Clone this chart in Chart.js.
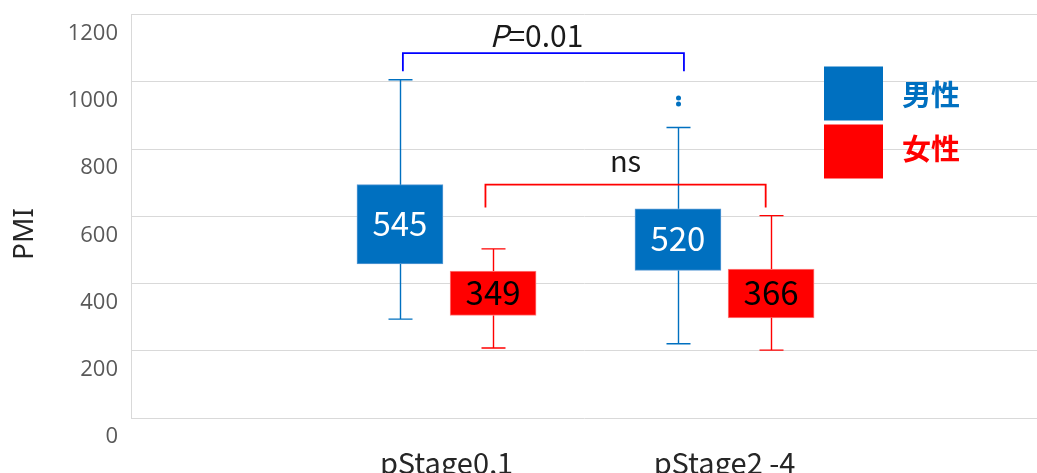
<!DOCTYPE html>
<html lang="ja">
<head>
    <meta charset="UTF-8" />
    <title>PMI by pStage</title>
    <style>
        html, body {
            margin: 0;
            padding: 0;
            background: #ffffff;
        }
        .chart-wrap {
            width: 1037px;
            height: 473px;
            position: relative;
        }
    </style>
    <script src="https://cdn.jsdelivr.net/npm/chart.js"></script>
</head>
<body>
    <div class="chart-wrap">
        <canvas id="pmi-chart"></canvas>
    </div>
    <script>
        // groups on the x axis and where each group sits on the linear scale
        const groups = ['pStage0,1', 'pStage2 -4'];
        const groupPos = [1, 2];
        const yTicks = [0, 200, 400, 600, 800, 1000, 1200];

        // 男性
        const maleMin = [294, 221];
        const maleQ1 = [458, 439];
        const maleQ3 = [694, 622];
        const maleMax = [1006, 864];
        const maleMedian = [545, 520];
        const maleOutliers = [[], [952, 934]];

        // 女性
        const femaleMin = [208, 202];
        const femaleQ1 = [305, 298];
        const femaleQ3 = [437, 443];
        const femaleMax = [503, 602];
        const femaleMedian = [349, 366];

        // significance brackets between boxes
        const brackets = [
            { from: 0.843, to: 1.854, y: 1085, leg: 1031, label: 'P=0.01', color: '#0000ff' },
            { from: 1.14, to: 2.148, y: 694, leg: 626, label: 'ns', color: '#ff0000' }
        ];

        const BLUE = '#0070c0';
        const RED = '#ff0000';
        const SHIFT = 0.1675;
        const FONT = '"Noto Sans CJK JP", "Noto Sans", sans-serif';

        const maleX = groupPos.map(p => p - SHIFT);
        const femaleX = groupPos.map(p => p + SHIFT);

        const series = [
            { name: '男性', color: BLUE, text: '#ffffff', x: maleX, min: maleMin, q1: maleQ1, q3: maleQ3, max: maleMax, med: maleMedian, out: maleOutliers },
            { name: '女性', color: RED, text: '#000000', x: femaleX, min: femaleMin, q1: femaleQ1, q3: femaleQ3, max: femaleMax, med: femaleMedian, out: [[], []] }
        ];

        const boxPlotPlugin = {
            id: 'boxPlotExtras',
            afterDatasetsDraw(chart) {
                const ctx = chart.ctx;
                const xs = chart.scales.x;
                const ys = chart.scales.y;
                const area = chart.chartArea;
                ctx.save();

                // whiskers, caps and outliers
                series.forEach(s => {
                    ctx.strokeStyle = s.color;
                    ctx.fillStyle = s.color;
                    ctx.lineWidth = 1.4;
                    s.x.forEach((xv, i) => {
                        const px = Math.round(xs.getPixelForValue(xv)) + 0.5;
                        const yMax = ys.getPixelForValue(s.max[i]);
                        const yQ3 = ys.getPixelForValue(s.q3[i]);
                        const yQ1 = ys.getPixelForValue(s.q1[i]);
                        const yMin = ys.getPixelForValue(s.min[i]);
                        ctx.beginPath();
                        ctx.moveTo(px, yMax); ctx.lineTo(px, yQ3);
                        ctx.moveTo(px, yQ1); ctx.lineTo(px, yMin);
                        ctx.moveTo(px - 12, yMax); ctx.lineTo(px + 12, yMax);
                        ctx.moveTo(px - 12, yMin); ctx.lineTo(px + 12, yMin);
                        ctx.stroke();
                        s.out[i].forEach(v => {
                            ctx.beginPath();
                            ctx.arc(px, ys.getPixelForValue(v), 2.5, 0, Math.PI * 2);
                            ctx.fill();
                        });
                    });
                });

                // median value inside each box
                ctx.font = '33px ' + FONT;
                ctx.textAlign = 'center';
                ctx.textBaseline = 'middle';
                series.forEach(s => {
                    ctx.fillStyle = s.text;
                    s.x.forEach((xv, i) => {
                        const px = xs.getPixelForValue(xv);
                        const py = (ys.getPixelForValue(s.q1[i]) + ys.getPixelForValue(s.q3[i])) / 2;
                        ctx.fillText(String(s.med[i]), px, py - 1);
                    });
                });

                // brackets with their labels
                brackets.forEach(b => {
                    const x1 = xs.getPixelForValue(b.from);
                    const x2 = xs.getPixelForValue(b.to);
                    const yb = ys.getPixelForValue(b.y);
                    const yl = ys.getPixelForValue(b.leg);
                    ctx.strokeStyle = b.color;
                    ctx.lineWidth = 1.8;
                    ctx.beginPath();
                    ctx.moveTo(x1, yl);
                    ctx.lineTo(x1, yb);
                    ctx.lineTo(x2, yb);
                    ctx.lineTo(x2, yl);
                    ctx.stroke();

                    const cx = (x1 + x2) / 2;
                    ctx.fillStyle = '#1a1a1a';
                    ctx.textBaseline = 'middle';
                    if (b.label.startsWith('P=')) {
                        const italic = 'italic 30px ' + FONT;
                        const normal = '30px ' + FONT;
                        const rest = b.label.slice(1);
                        ctx.font = italic;
                        const wP = ctx.measureText('P').width;
                        ctx.font = normal;
                        const wR = ctx.measureText(rest).width;
                        const start = cx - 7 - (wP + wR) / 2;
                        const ty = yb - 18;
                        ctx.textAlign = 'left';
                        ctx.font = italic;
                        ctx.fillText('P', start, ty);
                        ctx.font = normal;
                        ctx.fillText(rest, start + wP, ty);
                    } else {
                        ctx.textAlign = 'center';
                        ctx.font = '29px ' + FONT;
                        ctx.fillText(b.label, cx, yb - 23.5);
                    }
                });

                // legend squares on the right
                const lx = area.left + 693;
                let ly = area.top + 52;
                const textDy = [28, 24];
                ctx.font = 'bold 29px ' + FONT;
                ctx.textAlign = 'left';
                ctx.textBaseline = 'middle';
                series.forEach((s, i) => {
                    ctx.fillStyle = s.color;
                    ctx.fillRect(lx, ly, 59, 54);
                    ctx.fillText(s.name, lx + 78, ly + textDy[i]);
                    ly += 58;
                });

                // y axis title
                ctx.translate(25, 234);
                ctx.rotate(-Math.PI / 2);
                ctx.fillStyle = '#262626';
                ctx.font = '28px "Noto Sans", sans-serif';
                ctx.textAlign = 'center';
                ctx.fillText('PMI', 0, 0);

                ctx.restore();
            }
        };

        const ctx = document.getElementById('pmi-chart').getContext('2d');
        new Chart(ctx, {
            type: 'bar',
            data: {
                datasets: series.map(s => ({
                    label: s.name,
                    data: s.x.map((xv, i) => ({ x: xv, y: [s.q1[i], s.q3[i]] })),
                    backgroundColor: s.color,
                    borderColor: s.color === BLUE ? '#5b9bd5' : '#ff8080',
                    borderWidth: 1,
                    borderSkipped: false,
                    barThickness: 86,
                    grouped: false
                }))
            },
            options: {
                responsive: true,
                maintainAspectRatio: false,
                animation: false,
                layout: { padding: { top: 14.5, right: 0, left: 0, bottom: 0 } },
                plugins: {
                    legend: { display: false },
                    tooltip: { enabled: false }
                },
                scales: {
                    x: {
                        type: 'linear',
                        offset: false,
                        bounds: 'data',
                        min: -0.135,
                        max: 3.124,
                        grid: { display: false, drawTicks: false },
                        border: { display: false },
                        afterBuildTicks: axis => {
                            axis.ticks = groupPos.map(v => ({ value: v }));
                        },
                        afterFit: axis => {
                            axis.height = 55;
                            axis.paddingLeft = 0;
                            axis.paddingRight = 0;
                        },
                        ticks: {
                            padding: 28,
                            color: '#262626',
                            font: { family: FONT, size: 29 },
                            callback: value => groups[groupPos.indexOf(value)] || ''
                        }
                    },
                    y: {
                        min: 0,
                        max: 1200,
                        afterBuildTicks: axis => {
                            axis.ticks = yTicks.map(v => ({ value: v }));
                        },
                        afterFit: axis => {
                            axis.width = 131;
                            axis.paddingTop = 0;
                            axis.paddingBottom = 0;
                        },
                        grid: { color: '#d9d9d9', lineWidth: 1, drawTicks: false },
                        border: { color: '#d9d9d9' },
                        ticks: {
                            padding: 13,
                            labelOffset: 19,
                            color: '#595959',
                            font: { family: '"Open Sans", "Noto Sans", sans-serif', size: 22 },
                            callback: value => String(value)
                        }
                    }
                }
            },
            plugins: [boxPlotPlugin]
        });
    </script>
</body>
</html>
